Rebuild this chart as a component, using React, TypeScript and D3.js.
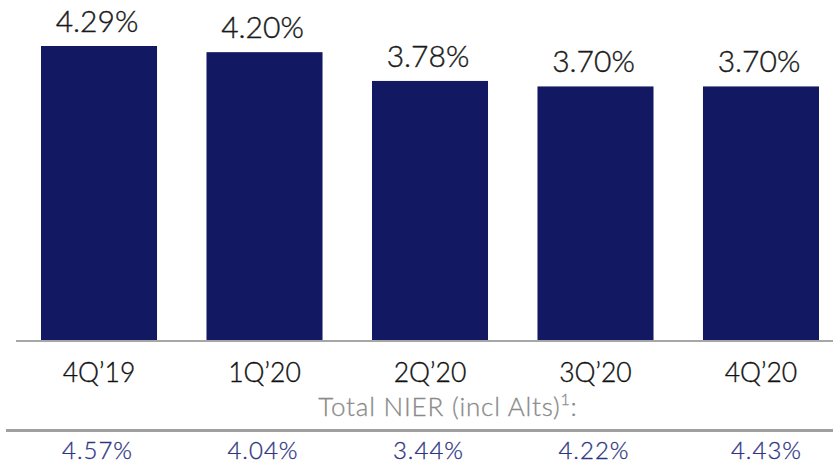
import React from "react";
import * as d3 from "d3";

const categories = ["4Q\u201919", "1Q\u201920", "2Q\u201920", "3Q\u201920", "4Q\u201920"];
const nierValues = [4.29, 4.2, 3.78, 3.7, 3.7];
const totalNierValues = [4.57, 4.04, 3.44, 4.22, 4.43];

const W = 833;
const H = 464;
const FONT = "Lato, 'Open Sans', sans-serif";

export default function App() {
  const xb = d3.scaleBand<string>().domain(categories).range([41, 819]).paddingInner(0.2989).paddingOuter(0);
  const y = d3.scaleLinear().domain([0, 4.29]).range([340, 46]);
  const fmt = d3.format(".2f");
  return (
    <svg width={W} height={H} style={{ position: "absolute", left: 0, top: 0 }}>
      {categories.map((c, i) => {
        const cx = xb(c)! + xb.bandwidth() / 2;
        return (
          <g key={c}>
            <rect x={xb(c)} y={y(nierValues[i])} width={xb.bandwidth()} height={y(0) - y(nierValues[i])} fill="#131862" />
            <text x={cx - 2} y={y(nierValues[i]) - 14} textAnchor="middle" fontFamily={FONT} fontWeight={300} fontSize={30} fill="#1a1a1a" stroke="#1a1a1a" strokeWidth={0.4}>
              {fmt(nierValues[i]) + "%"}
            </text>
            <text x={cx} y={382} textAnchor="middle" fontFamily={FONT} fontWeight={300} fontSize={26.5} fill="#111" stroke="#111" strokeWidth={0.35}>
              {c}
            </text>
            <text x={cx - 1.5 + (i === 4 ? 7 : 0)} y={459} textAnchor="middle" fontFamily={FONT} fontWeight={300} fontSize={24} letterSpacing={1} fill="#2e3584" stroke="#2e3584" strokeWidth={0.3}>
              {fmt(totalNierValues[i]) + "%"}
            </text>
          </g>
        );
      })}
      <line x1={16} x2={W} y1={341} y2={341} stroke="#a6a6a6" strokeWidth={2} />
      <text x={448} y={416} textAnchor="middle" fontFamily={FONT} fontWeight={300} fontSize={26} letterSpacing={0.8} fill="#8a8a8a" stroke="#8a8a8a" strokeWidth={0.3}>
        Total NIER (incl Alts)<tspan fontSize={16} dy={-11}>1</tspan><tspan dy={11}>:</tspan>
      </text>
      <line x1={6} x2={W} y1={430.5} y2={430.5} stroke="#a0a0a0" strokeWidth={3} />
    </svg>
  );
}
